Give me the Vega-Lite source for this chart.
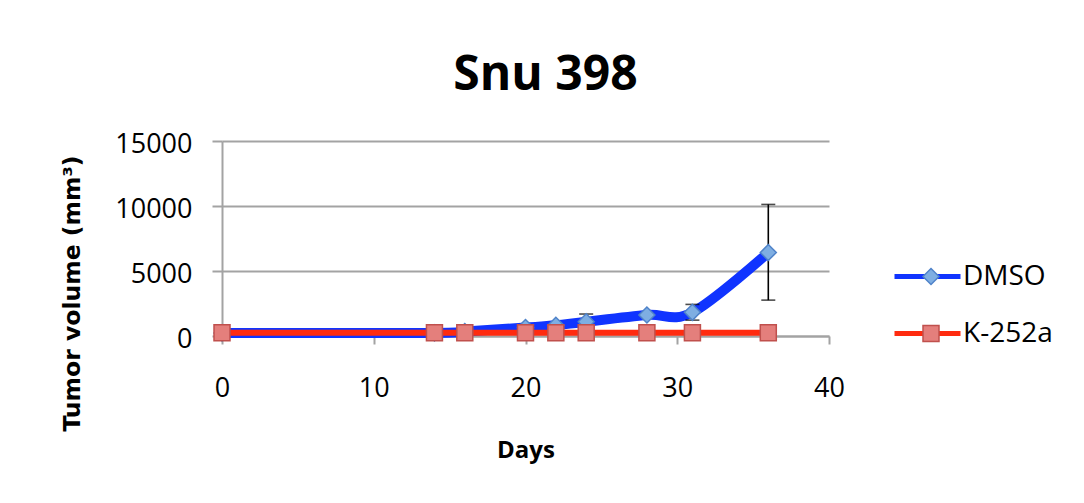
{
  "$schema": "https://vega.github.io/schema/vega-lite/v6.json",
  "width": 607,
  "height": 195,
  "autosize": {"type": "none"},
  "padding": {"left": 222, "top": 141, "right": 255, "bottom": 167},
  "background": "white",
  "title": {
    "text": "Snu 398",
    "font": "Open Sans",
    "fontSize": 48,
    "fontWeight": "bold",
    "color": "#000000",
    "anchor": "middle",
    "frame": "group",
    "dx": 20,
    "offset": 30
  },
  "data": {
    "values": [
      {"series": "DMSO", "day": 0, "vol": 230},
      {"series": "DMSO", "day": 14, "vol": 240},
      {"series": "DMSO", "day": 16, "vol": 350},
      {"series": "DMSO", "day": 20, "vol": 650},
      {"series": "DMSO", "day": 22, "vol": 820},
      {"series": "DMSO", "day": 24, "vol": 1100, "lo": 510, "hi": 1690},
      {"series": "DMSO", "day": 28, "vol": 1615},
      {"series": "DMSO", "day": 31, "vol": 1820, "lo": 1220, "hi": 2430},
      {"series": "DMSO", "day": 36, "vol": 6420, "lo": 2760, "hi": 10120},
      {"series": "K-252a", "day": 0, "vol": 250},
      {"series": "K-252a", "day": 14, "vol": 250},
      {"series": "K-252a", "day": 16, "vol": 250},
      {"series": "K-252a", "day": 20, "vol": 250},
      {"series": "K-252a", "day": 22, "vol": 250},
      {"series": "K-252a", "day": 24, "vol": 250},
      {"series": "K-252a", "day": 28, "vol": 250},
      {"series": "K-252a", "day": 31, "vol": 250},
      {"series": "K-252a", "day": 36, "vol": 250}
    ]
  },
  "encoding": {
    "x": {
      "field": "day",
      "type": "quantitative",
      "scale": {"domain": [0, 40], "nice": false, "zero": false},
      "axis": {
        "title": "Days",
        "values": [0, 10, 20, 30, 40],
        "grid": false,
        "domainColor": "#a3a3a3",
        "domainWidth": 2,
        "tickColor": "#a3a3a3",
        "tickWidth": 2,
        "tickSize": 8,
        "labelPadding": 31,
        "labelFont": "Open Sans",
        "labelFontSize": 27,
        "labelColor": "#000000",
        "labelFlush": false,
        "labelOverlap": false,
        "titleFont": "Open Sans",
        "titleFontSize": 24,
        "titleFontWeight": "bold",
        "titleColor": "#000000",
        "titleY": 121,
        "titleBaseline": "alphabetic"
      }
    }
  },
  "layer": [
    {
      "transform": [{"filter": "datum.series === 'DMSO'"}],
      "mark": {"type": "line", "interpolate": "cardinal", "strokeWidth": 10, "strokeJoin": "round", "strokeCap": "round"},
      "encoding": {
        "y": {
          "field": "vol",
          "type": "quantitative",
          "title": "Tumor volume (mm³)",
          "scale": {"domain": [0, 15000], "nice": false},
          "axis": {
            "values": [0, 5000, 10000, 15000],
            "format": "d",
            "grid": true,
            "gridColor": "#a3a3a3",
            "gridWidth": 2,
            "domainColor": "#a3a3a3",
            "domainWidth": 2,
            "tickColor": "#a3a3a3",
            "tickWidth": 2,
            "tickSize": 10,
            "labelPadding": 20,
            "labelOffset": 3,
            "labelFont": "Open Sans",
            "labelFontSize": 27,
            "labelColor": "#000000",
            "labelOverlap": false,
            "titleFont": "DejaVu Sans",
            "titleFontSize": 23.5,
            "titleFontWeight": "bold",
            "titleColor": "#000000",
            "titleX": -143,
            "titleY": 152,
            "titleAngle": -90,
            "titleAlign": "center",
            "titleBaseline": "alphabetic"
          }
        },
        "color": {
          "field": "series",
          "type": "nominal",
          "scale": {"domain": ["DMSO", "K-252a"], "range": ["#1034ff", "#ff2b0f"]},
          "legend": {
            "orient": "none",
            "legendX": 670,
            "legendY": 107,
            "title": null,
            "symbolType": "stroke",
            "symbolSize": 4356,
            "symbolStrokeWidth": 5,
            "clipHeight": 57,
            "rowPadding": 0,
            "padding": 0,
            "labelExpr": "''",
            "labelOffset": 0
          }
        }
      }
    },
    {
      "transform": [{"filter": "isValid(datum.lo)"}],
      "mark": {"type": "errorbar", "ticks": true, "size": 14, "thickness": 1.6, "color": "#000000"},
      "encoding": {
        "y": {"field": "lo", "type": "quantitative", "title": "Tumor volume (mm³)"},
        "y2": {"field": "hi"}
      }
    },
    {
      "transform": [{"filter": "datum.series === 'DMSO'"}],
      "mark": {"type": "point", "filled": true, "size": 256, "strokeWidth": 1.5, "opacity": 1},
      "encoding": {
        "y": {"field": "vol", "type": "quantitative", "title": "Tumor volume (mm³)"},
        "fill": {
          "field": "series",
          "type": "nominal",
          "scale": {"range": ["#7eaee2", "#e47f7c"]},
          "legend": {
            "orient": "none",
            "legendX": 695,
            "legendY": 107,
            "title": null,
            "symbolSize": 256,
            "symbolStrokeWidth": 1.5,
            "symbolOpacity": 1,
            "clipHeight": 57,
            "rowPadding": 0,
            "padding": 0,
            "labelFont": "Open Sans",
            "labelFontSize": 28,
            "labelColor": "#000000",
            "labelOffset": 18
          }
        },
        "stroke": {
          "field": "series",
          "type": "nominal",
          "scale": {"range": ["#4f83c9", "#c0504d"]},
          "legend": {"orient": "none", "legendX": 695, "legendY": 107}
        },
        "shape": {
          "field": "series",
          "type": "nominal",
          "scale": {"range": ["diamond", "square"]},
          "legend": {"orient": "none", "legendX": 695, "legendY": 107}
        }
      }
    },
    {
      "transform": [{"filter": "datum.series === 'K-252a'"}],
      "mark": {"type": "line", "strokeWidth": 6, "strokeCap": "round"},
      "encoding": {
        "y": {"field": "vol", "type": "quantitative", "title": "Tumor volume (mm³)"},
        "color": {"field": "series", "type": "nominal"}
      }
    },
    {
      "transform": [{"filter": "datum.series === 'K-252a'"}],
      "mark": {"type": "point", "filled": true, "size": 256, "strokeWidth": 1.5, "opacity": 1},
      "encoding": {
        "y": {"field": "vol", "type": "quantitative", "title": "Tumor volume (mm³)"},
        "fill": {"field": "series", "type": "nominal"},
        "stroke": {"field": "series", "type": "nominal"},
        "shape": {"field": "series", "type": "nominal"}
      }
    }
  ],
  "config": {
    "view": {"stroke": null}
  }
}
